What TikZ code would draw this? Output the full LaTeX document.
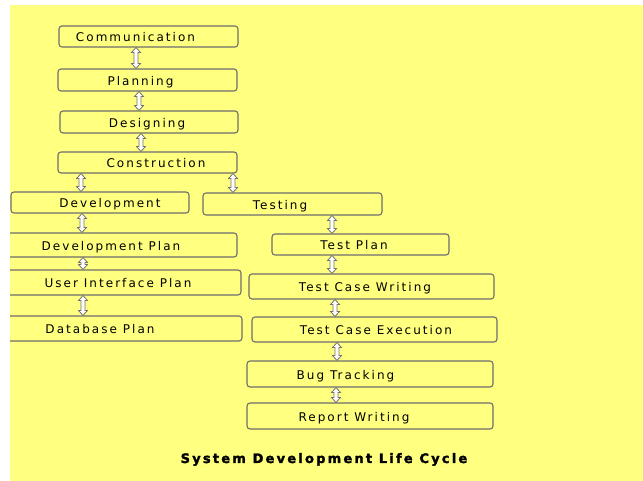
\documentclass[tikz,border=0pt]{standalone}
\usepackage{fontspec}
\newfontfamily\boxfont[LetterSpace=17]{DejaVu Sans}
\newfontfamily\ttlfont[LetterSpace=17,FakeBold=2]{DejaVu Sans}
\usetikzlibrary{calc}
\definecolor{bgyellow}{RGB}{255,255,128}
\definecolor{boxgray}{RGB}{110,110,110}
\definecolor{arrgray}{RGB}{115,115,115}
\newcommand{\lbl}[2]{\makebox[0pt]{\kern#1\relax #2}}
\newcommand{\udarr}[3]{%
  \path[arr] let \p1=(#1.south), \p2=(#2.north) in
    (#3pt,\y1) -- (#3pt+4.5pt,\y1-5pt) -- (#3pt+2pt,\y1-5pt) -- (#3pt+2pt,\y2+5pt)
    -- (#3pt+4.5pt,\y2+5pt) -- (#3pt,\y2) -- (#3pt-4.5pt,\y2+5pt) -- (#3pt-2pt,\y2+5pt)
    -- (#3pt-2pt,\y1-5pt) -- (#3pt-4.5pt,\y1-5pt) -- cycle;}
\begin{document}
\begin{tikzpicture}[x=1pt,y=1pt,
  stage/.style={draw=boxgray, line width=1.1pt, rounded corners=3pt, inner sep=0pt,
    text height=11pt, text depth=0pt, font=\boxfont\fontsize{12}{14}\selectfont},
  arr/.style={draw=arrgray, fill=white, line width=0.8pt, line join=miter}]
\useasboundingbox (0,0) rectangle (643,481);
\fill[white] (0,0) rectangle (643,481);
\fill[bgyellow] (10,0) rectangle (643,476);
\begin{scope}
\clip (10,0) rectangle (643,476);
\node[stage, minimum width=179pt, minimum height=21pt] (comm) at (148.5,444.5) {\lbl{-26pt}{Communication}};
\node[stage, minimum width=179pt, minimum height=22pt] (plan) at (147.5,401) {\lbl{-14pt}{Planning}};
\node[stage, minimum width=178pt, minimum height=22pt] (des) at (149,359) {\lbl{-4pt}{Designing}};
\node[stage, minimum width=179pt, minimum height=21pt] (cons) at (147.5,318.5) {\lbl{17pt}{Construction}};
\node[stage, minimum width=178pt, minimum height=21pt] (dev) at (100,278.5) {\lbl{20pt}{Development}};
\node[stage, minimum width=179pt, minimum height=22pt] (test) at (292.5,277) {\lbl{-25pt}{Testing}};
\node[stage, minimum width=242pt, minimum height=24pt] (devplan) at (116,236) {\lbl{-10pt}{Development Plan}};
\node[stage, minimum width=246pt, minimum height=25pt] (uip) at (118,198.5) {\lbl{0pt}{User Interface Plan}};
\node[stage, minimum width=247pt, minimum height=25pt] (dbp) at (118.5,152.5) {\lbl{-37pt}{Database Plan}};
\node[stage, minimum width=177pt, minimum height=21pt] (tplan) at (360.5,236.5) {\lbl{-13pt}{Test Plan}};
\node[stage, minimum width=245pt, minimum height=25pt] (tcw) at (371.5,194.5) {\lbl{-13pt}{Test Case Writing}};
\node[stage, minimum width=245pt, minimum height=25pt] (tce) at (374.5,151.5) {\lbl{3pt}{Test Case Execution}};
\node[stage, minimum width=246pt, minimum height=26pt] (bug) at (370,107) {\lbl{-49pt}{Bug Tracking}};
\node[stage, minimum width=246pt, minimum height=26pt] (rep) at (370,65) {\lbl{-32pt}{Report Writing}};
\udarr{comm}{plan}{136}
\udarr{plan}{des}{139}
\udarr{des}{cons}{141}
\udarr{cons}{dev}{81}
\udarr{cons}{test}{233}
\udarr{dev}{devplan}{82}
\udarr{devplan}{uip}{83}
\udarr{uip}{dbp}{83}
\udarr{test}{tplan}{332}
\udarr{tplan}{tcw}{332}
\udarr{tcw}{tce}{335}
\udarr{tce}{bug}{337}
\udarr{bug}{rep}{336}
\node[font=\ttlfont\bfseries\fontsize{13}{15}\selectfont, anchor=base, inner sep=0pt] (title) at (324,18) {System Development Life Cycle};
\end{scope}
\end{tikzpicture}
\end{document}
